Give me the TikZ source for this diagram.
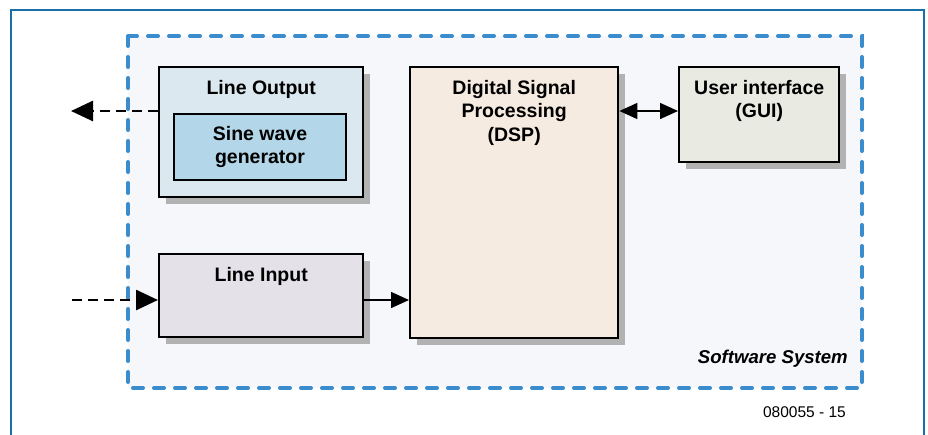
\documentclass[tikz,border=0pt]{standalone}
\usepackage{fontspec}
\setmainfont{Liberation Sans}
\usetikzlibrary{arrows.meta,positioning,shadows,calc}

\definecolor{framecol}{HTML}{1A6FA8}
\definecolor{syscol}{HTML}{3A8CCC}
\definecolor{sysfill}{HTML}{F5F7FB}
\definecolor{outfill}{HTML}{DCE8EF}
\definecolor{sinefill}{HTML}{B3D7E8}
\definecolor{infill}{HTML}{E4E2E8}
\definecolor{dspfill}{HTML}{F6EBE0}
\definecolor{guifill}{HTML}{E9EAE2}

\tikzset{
  plainblock/.style={draw=black, line width=2.4pt, rectangle, anchor=north west, inner sep=0pt},
  block/.style={plainblock,
    drop shadow={shadow xshift=7pt, shadow yshift=-7pt, fill=black!30, opacity=1}},
  title/.style={font=\fontsize{19.5}{23.5}\selectfont\bfseries, align=center, anchor=north, inner sep=0pt},
  bigtip/.style={-{Triangle[length=22pt,width=20pt]}},
  sigline/.style={line width=1.5pt, -{Triangle[length=18pt,width=16pt]}},
  extline/.style={line width=2.6pt, dash pattern=on 10pt off 6pt, bigtip}
}

\begin{document}
\begin{tikzpicture}[x=1pt,y=-1pt]
    \useasboundingbox (0,0) rectangle (928,434);

    % draw frame
    \draw[framecol, line width=2pt] (11,440) -- (11,10) -- (924,10) -- (924,440);

    % draw software system
    \draw[syscol, fill=sysfill, line width=4pt, line cap=round, dash pattern=on 10pt off 11pt]
        (128,36) rectangle (862,388);
    \node (syslabel) [anchor=south east, inner sep=0pt, font=\fontsize{18.6}{22}\selectfont\bfseries\itshape]
        at (848,368) {Software System};

    % draw blocks
    \node (lineout) [block, fill=outfill, minimum width=204pt, minimum height=130pt] at (158,66) {};
    \node (lineout_label) [title] at ($(lineout.north)+(0,14)$) {Line Output};
    \node (sine) [plainblock, fill=sinefill, minimum width=172pt, minimum height=66pt, anchor=center,
        font=\fontsize{19.5}{23.5}\selectfont\bfseries, align=center]
        at (260,147) {Sine wave\\generator};

    \node (linein) [block, fill=infill, minimum width=204pt, minimum height=83pt] at (158,253) {};
    \node (linein_label) [title] at ($(linein.north)+(0,14)$) {Line Input};

    \node (dsp) [block, fill=dspfill, minimum width=208pt, minimum height=271pt] at (409,66) {};
    \node (dsp_label) [title] at ($(dsp.north)+(0,14)$) {Digital Signal\\Processing\\(DSP)};

    \node (gui) [block, fill=guifill, minimum width=160pt, minimum height=95pt] at (678,66) {};
    \node (gui_label) [title] at ($(gui.north)+(0,14)$) {User interface\\(GUI)};

    % draw connections
    \coordinate (audio_out) at (71,111);
    \coordinate (audio_in) at (72,300);
    \draw[extline] (lineout.west |- audio_out) -- (audio_out);
    \draw[extline] (audio_in) -- (linein.west |- audio_in);
    \draw[sigline] (linein.east |- audio_in) -- (dsp.west |- audio_in);
    \draw[sigline, {Triangle[length=18pt,width=16pt]}-{Triangle[length=18pt,width=16pt]}]
        (dsp.east |- audio_out) -- (gui.west |- audio_out);

    \node (figno) [anchor=east, inner sep=0pt, font=\fontsize{15.5}{18}\selectfont] at (846,412) {080055 - 15};
\end{tikzpicture}
\end{document}
